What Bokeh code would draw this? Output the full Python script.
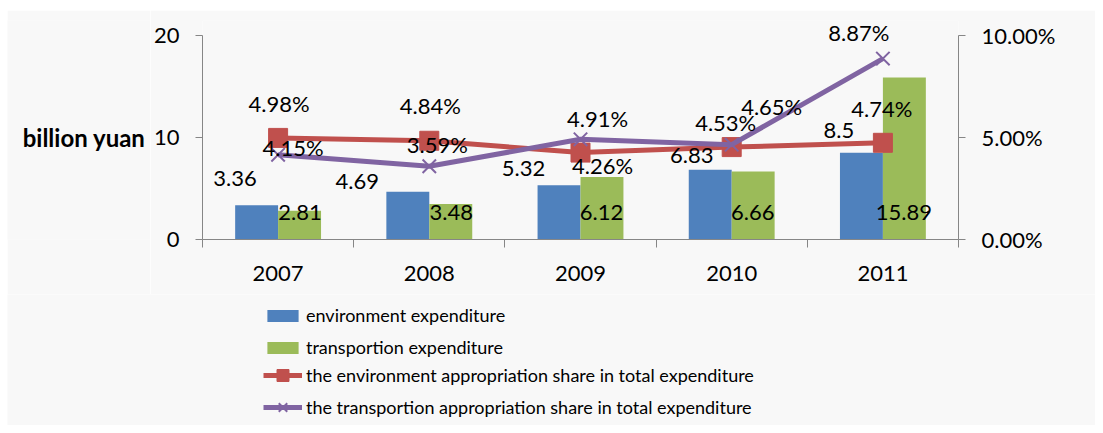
from bokeh.plotting import figure
from bokeh.layouts import column, row
from bokeh.models import (Range1d, LinearAxis, FixedTicker,
                          PrintfTickFormatter, ColumnDataSource, LabelSet, Label, Legend, LegendItem)
from bokeh.core.properties import value
from bokeh.transform import dodge
from bokeh.embed import file_html
from bokeh.resources import INLINE

# ---- data ----
years = ["2007", "2008", "2009", "2010", "2011"]
env_exp = [3.36, 4.69, 5.32, 6.83, 8.5]
trans_exp = [2.81, 3.48, 6.12, 6.66, 15.89]
env_share = [4.98, 4.84, 4.26, 4.53, 4.74]
trans_share = [4.15, 3.59, 4.91, 4.65, 8.87]
left_ticks = [0, 10, 20]
right_ticks = [0, 5, 10]
y_title = "billion yuan"
names = ["environment expenditure", "transportion expenditure",
         "the environment appropriation share in total expenditure",
         "the transportion appropriation share in total expenditure"]

# ---- styles ----
FONT = "Lato"
BLUE, GREEN, RED, PURPLE = "#4F81BD", "#9BBB59", "#C0504D", "#8064A2"
AXIS, BG = "#868686", "#F8F8F8"
FS = "22px"

# label offsets (screen px) – style only
blue_dx = [-43, -72, -57, -40, -44]; blue_dy = [27, 10, 17, 14, 22]
green_dx = [22, 22, 21, 21, 21]; green_dy = [27, 27, 27, 27, 27]
red_dx = [1, 1, 22, -6, -1]; red_dy = [34, 35, -13, 25, 34]
pur_dx = [15, 8, 17, 40, -24]; pur_dy = [7, 22, 21, 38, 26]

# geometry (px)
ROW_H = 284
TOP_B, BOT_B = 10, 55
AXIS_PX = 204            # pixel height of the 0..20 axis
FRAME_H = ROW_H - TOP_B - BOT_B
head = FRAME_H / AXIS_PX  # extra head-room so top labels are not clipped

n = len(years)
centres = [i + 0.5 for i in range(n)]
edges = list(range(n + 1))

src = ColumnDataSource(dict(
    xc=centres, year=years, env=env_exp, trans=trans_exp, zero=[0] * n,
    env_share=env_share, trans_share=trans_share,
    env_lbl=[str(v) for v in env_exp], trans_lbl=[str(v) for v in trans_exp],
    env_share_lbl=[f"{v:.2f}%" for v in env_share],
    trans_share_lbl=[f"{v:.2f}%" for v in trans_share],
    bdx=blue_dx, bdy=blue_dy, gdx=green_dx, gdy=green_dy,
    rdx=red_dx, rdy=red_dy, pdx=pur_dx, pdy=pur_dy,
))

yr = Range1d(left_ticks[0], left_ticks[-1] * head)
p = figure(width=945, height=ROW_H, x_range=Range1d(0, n), y_range=yr,
           output_backend="svg", toolbar_location=None, x_axis_location=None,
           min_border_left=51, min_border_right=137, min_border_top=TOP_B, min_border_bottom=BOT_B,
           background_fill_color=BG, border_fill_color=BG, outline_line_color=None)
p.xgrid.grid_line_color = None
p.ygrid.grid_line_color = None
p.extra_y_ranges = {"pct": Range1d(right_ticks[0], right_ticks[-1] * head)}

# left axis
ya = p.yaxis[0]
ya.ticker = FixedTicker(ticks=left_ticks)
ya.bounds = (left_ticks[0], left_ticks[-1])
ya.axis_line_color = AXIS
ya.major_tick_line_color = AXIS
ya.major_tick_in = 0
ya.major_tick_out = 7
ya.minor_tick_line_color = None
ya.major_label_text_font = FONT
ya.major_label_text_font_size = FS
ya.major_label_text_color = "black"
ya.major_label_standoff = 16

# right axis
ra = LinearAxis(y_range_name="pct", ticker=FixedTicker(ticks=right_ticks),
                bounds=(right_ticks[0], right_ticks[-1]),
                formatter=PrintfTickFormatter(format="%.2f%%"),
                axis_line_color=AXIS, major_tick_line_color=AXIS, major_tick_in=0, major_tick_out=7,
                minor_tick_line_color=None, major_label_text_font=FONT,
                major_label_text_font_size=FS, major_label_text_color="black",
                major_label_standoff=16)
p.add_layout(ra, "right")

# bottom axis: labels at category centres, tick marks at category edges
ca = LinearAxis(ticker=FixedTicker(ticks=centres, minor_ticks=edges),
                major_label_overrides={c: y for c, y in zip(centres, years)},
                axis_line_color=AXIS, major_tick_line_color=None, major_tick_in=0, major_tick_out=0,
                minor_tick_line_color=AXIS, minor_tick_in=0, minor_tick_out=8,
                major_label_text_font=FONT, major_label_text_font_size=FS,
                major_label_text_color="black", major_label_standoff=18)
p.add_layout(ca, "below")

# bars
b1 = p.vbar(x=dodge("xc", -0.142), top="env", width=0.284,
            fill_color=BLUE, line_color=None, source=src)
b2 = p.vbar(x=dodge("xc", 0.142), top="trans", width=0.284,
            fill_color=GREEN, line_color=None, source=src)

# lines
p.line("xc", "env_share", y_range_name="pct", line_color=RED, line_width=5, source=src)
p.scatter("xc", "env_share", y_range_name="pct", marker="square", size=19,
          fill_color=RED, line_color=RED, source=src)
p.line("xc", "trans_share", y_range_name="pct", line_color=PURPLE, line_width=5, source=src)
p.scatter("xc", "trans_share", y_range_name="pct", marker="x", size=19,
          line_color=PURPLE, line_width=2, source=src)

common = dict(source=src, text_font=value(FONT), text_font_size=value(FS), text_color="black",
              text_align="center", text_baseline="middle")
p.add_layout(LabelSet(x="xc", y="env", text="env_lbl", x_offset="bdx", y_offset="bdy", **common))
p.add_layout(LabelSet(x="xc", y="zero", text="trans_lbl", x_offset="gdx", y_offset="gdy", **common))
p.add_layout(LabelSet(x="xc", y="env_share", text="env_share_lbl", y_range_name="pct",
                      x_offset="rdx", y_offset="rdy", **common))
p.add_layout(LabelSet(x="xc", y="trans_share", text="trans_share_lbl", y_range_name="pct",
                      x_offset="pdx", y_offset="pdy", **common))

# y title figure (shares y range so the title sits level with the 10 tick)
tf = figure(width=143, height=ROW_H, x_range=Range1d(0, 1), y_range=yr,
            output_backend="svg", toolbar_location=None, x_axis_location=None, y_axis_location=None,
            min_border_left=0, min_border_right=0, min_border_top=TOP_B, min_border_bottom=BOT_B,
            background_fill_color=BG, border_fill_color=BG, outline_line_color=None)
tf.xgrid.grid_line_color = None
tf.ygrid.grid_line_color = None
tf.add_layout(Label(x=138, x_units="screen", y=left_ticks[1], text=y_title, text_align="right",
                    text_baseline="middle", text_font=FONT, text_font_size="24px",
                    text_font_style="bold", text_color="black"))

# legend figure (proxy renderers reuse the data but sit outside its visible range)
lf = figure(width=1088, height=131, x_range=Range1d(-2, -1), y_range=Range1d(0, 1),
            output_backend="svg", toolbar_location=None, x_axis_location=None, y_axis_location=None,
            min_border=0, background_fill_color=BG, border_fill_color=BG, outline_line_color=None)
lf.xgrid.grid_line_color = None
lf.ygrid.grid_line_color = None
g1 = lf.vbar(x="xc", top="env", width=0.284, fill_color=BLUE, line_color=None, source=src)
g2 = lf.vbar(x="xc", top="trans", width=0.284, fill_color=GREEN, line_color=None, source=src)
g3 = lf.line("xc", "env_share", line_color=RED, line_width=5, source=src)
g4 = lf.scatter("xc", "env_share", marker="square", size=15, fill_color=RED, line_color=RED, source=src)
g5 = lf.line("xc", "trans_share", line_color=PURPLE, line_width=5, source=src)
g6 = lf.scatter("xc", "trans_share", marker="x", size=15, line_color=PURPLE, line_width=2, source=src)

leg_style = dict(orientation="vertical", padding=0, margin=0, glyph_width=39, label_standoff=4,
                 label_text_font=FONT, label_text_font_size="18px", label_text_color="black",
                 border_line_color=None, background_fill_alpha=0)
lega = Legend(items=[LegendItem(label=names[0], renderers=[g1]),
                     LegendItem(label=names[1], renderers=[g2])],
              location=(256, 66), spacing=8, glyph_height=15, label_height=24, **leg_style)
legb = Legend(items=[LegendItem(label=names[2], renderers=[g3, g4]),
                     LegendItem(label=names[3], renderers=[g5, g6])],
              location=(256, 3), spacing=2, glyph_height=30, label_height=30, **leg_style)
lf.add_layout(lega)
lf.add_layout(legb)

layout = column(row(tf, p, spacing=0), lf, spacing=0, margin=(10, 0, 0, 7))

open("out.html", "w").write(file_html(layout, INLINE))
